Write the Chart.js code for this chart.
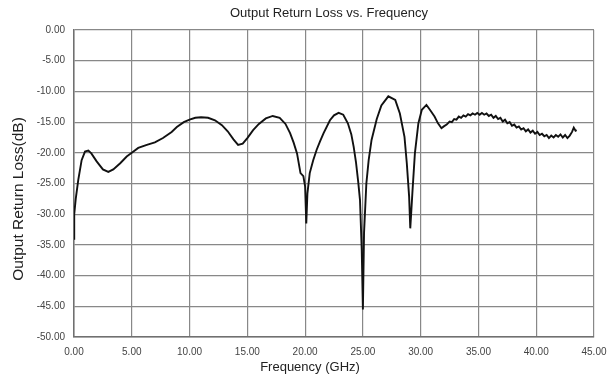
<!DOCTYPE html>
<html lang="en">
<head>
  <meta charset="UTF-8" />
  <title>Output Return Loss vs. Frequency</title>
  <script src="https://cdn.jsdelivr.net/npm/chart.js"></script>
  <style>
    body {
      margin: 0;
      background: #fff;
    }
    #grafica {
      display: block;
    }
  </style>
</head>
<body>
  <canvas id="grafica" width="613" height="378"></canvas>

  <script>
    // frecuencia (GHz) y pérdida de retorno (dB)
    const freqGHz = [
      0.00, 0.02, 0.15, 0.37, 0.66, 0.95, 1.24, 1.50, 1.96, 2.50,
      2.97, 3.40, 4.00, 4.56, 5.00, 5.56, 6.30, 7.00, 7.70, 8.45,
      8.90, 9.50, 10.0, 10.5, 11.0, 11.6, 12.2, 12.8, 13.3, 13.8,
      14.2, 14.6, 15.0, 15.5, 16.0, 16.6, 17.2, 17.8, 18.3, 18.7,
      19.0, 19.3, 19.6, 19.85, 20.0, 20.1, 20.2, 20.4, 20.7, 21.0,
      21.3, 21.6, 22.15, 22.5, 22.9, 23.3, 23.7, 24.0, 24.2, 24.4,
      24.6, 24.75, 24.9, 25.0, 25.1, 25.3, 25.5, 25.75, 26.2, 26.6,
      27.2, 27.8, 28.2, 28.6, 28.8, 29.0, 29.1, 29.3, 29.5, 29.8,
      30.1, 30.5, 30.8, 31.2, 31.5, 31.8, 32.0, 32.25, 32.5, 32.7,
      32.9, 33.1, 33.3, 33.5, 33.7, 33.9, 34.1, 34.3, 34.5, 34.7,
      34.9, 35.1, 35.3, 35.5, 35.7, 35.9, 36.1, 36.3, 36.5, 36.7,
      36.9, 37.1, 37.3, 37.5, 37.7, 37.9, 38.1, 38.3, 38.5, 38.7,
      38.9, 39.1, 39.3, 39.5, 39.7, 39.9, 40.1, 40.3, 40.5, 40.7,
      40.9, 41.1, 41.3, 41.5, 41.7, 41.9, 42.1, 42.3, 42.5, 42.7,
      42.9, 43.1, 43.25, 43.4, 43.5
    ];
    const lossDb = [
      -34.0, -30.0, -27.5, -24.4, -21.2, -19.8, -19.65, -20.1, -21.4, -22.7,
      -23.1, -22.7, -21.7, -20.6, -20.0, -19.2, -18.7, -18.3, -17.6, -16.6,
      -15.8, -15.0, -14.6, -14.3, -14.2, -14.3, -14.7, -15.5, -16.5, -17.8,
      -18.7, -18.5, -17.6, -16.3, -15.3, -14.4, -14.0, -14.3, -15.3, -16.8,
      -18.3, -20.1, -23.3, -23.8, -25.5, -31.5, -26.6, -23.3, -21.2, -19.5,
      -18.1, -16.8, -14.7, -13.9, -13.5, -13.8, -15.2, -17.0, -19.0, -21.5,
      -24.8, -27.7, -35.8, -45.5, -33.0, -25.0, -21.2, -17.9, -14.5, -12.3,
      -10.8, -11.4, -13.6, -17.4, -21.7, -27.1, -32.3, -26.0, -20.1, -15.2,
      -13.0, -12.2, -13.0, -14.1, -15.2, -16.0, -15.7, -15.4, -14.9, -15.0,
      -14.5, -14.6, -14.1, -14.3, -13.9, -14.1, -13.7, -13.9, -13.6, -13.8,
      -13.5, -13.8, -13.5, -13.8, -13.6, -14.0, -13.8, -14.3, -14.0, -14.5,
      -14.3, -14.9, -14.6, -15.2, -15.0, -15.6, -15.4, -15.9, -15.7, -16.2,
      -16.0, -16.5, -16.2, -16.7, -16.4, -16.9, -16.6, -17.1, -16.9, -17.3,
      -17.1, -17.6, -17.2, -17.5, -17.1, -17.4, -17.0, -17.5, -17.1, -17.6,
      -17.2, -16.6, -15.9, -16.4, -16.3
    ];

    const xMin = 0, xMax = 45, xStep = 5;
    const yMin = -50, yMax = 0, yStep = 5;

    const titulo = 'Output Return Loss vs. Frequency';
    const tituloX = 'Frequency (GHz)';
    const tituloY = 'Output Return Loss(dB)';

    const puntos = freqGHz.map((f, i) => ({ x: f, y: lossDb[i] }));

    // títulos dibujados a mano: en el original no están centrados
    const titulos = {
      id: 'titulos',
      afterDraw(chart) {
        const c = chart.ctx;
        c.save();
        c.fillStyle = '#222';
        c.textAlign = 'center';
        c.textBaseline = 'middle';
        c.font = '13px "Liberation Sans"';
        c.fillText(titulo, 329, 13);
        c.fillText(tituloX, 310, 367);
        c.translate(19, 199);
        c.rotate(-Math.PI / 2);
        c.font = '15.5px "Liberation Sans"';
        c.fillText(tituloY, 0, 0);
        c.restore();
      }
    };

    const ctx = document.getElementById('grafica').getContext('2d');
    new Chart(ctx, {
      type: 'line',
      data: {
        datasets: [{
          data: puntos,
          borderColor: '#111',
          borderWidth: 1.9,
          pointRadius: 0,
          tension: 0,
          fill: false
        }]
      },
      options: {
        responsive: false,
        animation: false,
        layout: { padding: { left: 0, right: 19, top: 30, bottom: 0 } },
        plugins: {
          legend: { display: false },
          tooltip: { enabled: false },
          title: { display: false }
        },
        scales: {
          x: {
            type: 'linear',
            min: xMin,
            max: xMax,
            afterFit: (s) => { s.height = 41; s.paddingLeft = 0; s.paddingRight = 0; },
            ticks: {
              stepSize: xStep,
              padding: 9,
              color: '#444',
              font: { family: 'Liberation Sans', size: 10 },
              maxRotation: 0,
              callback: (v) => v.toFixed(2)
            },
            grid: { color: '#888', lineWidth: 1.2, drawTicks: false },
            border: { color: '#707070', width: 1.5 }
          },
          y: {
            min: yMin,
            max: yMax,
            afterFit: (s) => { s.width = 74; s.paddingTop = 0; s.paddingBottom = 0; },
            ticks: {
              stepSize: yStep,
              padding: 9,
              color: '#444',
              font: { family: 'Liberation Sans', size: 10 },
              callback: (v) => v.toFixed(2)
            },
            grid: { color: '#888', lineWidth: 1.2, drawTicks: false },
            border: { color: '#707070', width: 1.5 }
          }
        }
      },
      plugins: [titulos]
    });
  </script>
</body>
</html>
